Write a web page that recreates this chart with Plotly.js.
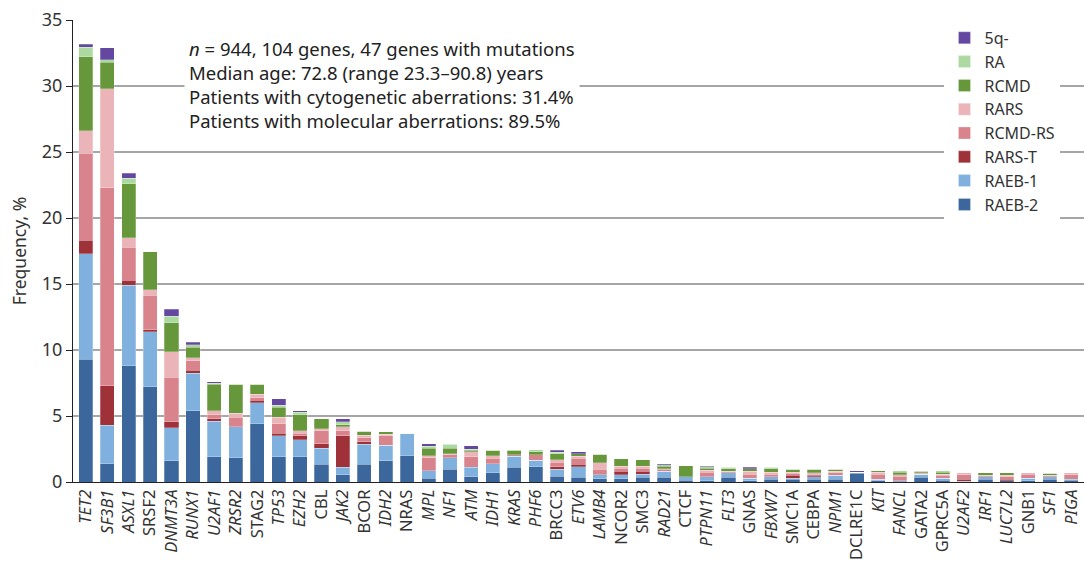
<!DOCTYPE html>
<html>
<head>
<meta charset="utf-8">
<script src="https://cdn.plot.ly/plotly-3.0.1.min.js"></script>
<style>html,body{margin:0;padding:0;background:#fff;}#chart{width:1084px;height:563px;}</style>
</head>
<body>
<div id="chart"></div>
<script>
const genes = ["TET2","SF3B1","ASXL1","SRSF2","DNMT3A","RUNX1","U2AF1","ZRSR2","STAG2","TP53","EZH2","CBL","JAK2","BCOR","IDH2","NRAS","MPL","NF1","ATM","IDH1","KRAS","PHF6","BRCC3","ETV6","LAMB4","NCOR2","SMC3","RAD21","CTCF","PTPN11","FLT3","GNAS","FBXW7","SMC1A","CEBPA","NPM1","DCLRE1C","KIT","FANCL","GATA2","GPRC5A","U2AF2","IRF1","LUC7L2","GNB1","SF1","PIGA"];

const raeb2  = [9.3,1.4,8.8,7.2,1.6,5.4,1.9,1.85,4.4,1.9,1.9,1.35,0.55,1.35,1.6,2.0,0.3,0.95,0.4,0.7,1.1,1.15,0.45,0.35,0.25,0.25,0.35,0.35,0.15,0.1,0.35,0.1,0.2,0.2,0.2,0.2,0.65,0.1,0,0.35,0.15,0.05,0.2,0.1,0.1,0.2,0.15];
const raeb1  = [8.0,2.9,6.1,4.2,2.5,2.85,2.7,2.35,1.6,1.6,1.3,1.2,0.55,1.5,1.2,1.7,0.55,0.9,0.7,0.7,0.85,0.5,0.5,0.8,0.3,0.3,0.25,0.45,0.25,0.3,0.35,0.2,0.2,0.1,0.2,0.3,0.1,0.1,0.1,0.25,0.15,0,0.2,0,0.2,0.2,0.05];
const rarst  = [1.0,3.0,0.4,0.15,0.45,0.2,0.2,0,0.2,0.2,0.3,0.35,2.4,0.2,0,0,0,0,0.1,0,0,0,0.2,0.2,0.05,0.25,0.2,0,0,0,0,0,0,0.2,0.1,0,0,0,0,0,0,0.15,0,0.1,0,0,0.1];
const rcmdrs = [6.6,15.0,2.5,2.6,3.4,0.75,0.3,0.7,0.2,0.7,0.2,1.0,0.4,0.3,0.7,0,1.0,0.2,0.7,0.4,0.1,0.4,0.35,0.45,0.35,0.25,0.25,0.15,0,0.35,0.1,0.3,0.2,0.15,0.1,0.2,0,0.4,0.35,0,0.2,0.35,0.1,0.2,0.3,0.1,0.25];
const rars   = [1.7,7.5,0.7,0.4,1.9,0.2,0.3,0.3,0.25,0.5,0.2,0.15,0.3,0.2,0.1,0,0.15,0.1,0.4,0.2,0,0,0.2,0.15,0.5,0.15,0.15,0.05,0,0.15,0,0.2,0.15,0.1,0.1,0.1,0,0.15,0.1,0.1,0.1,0.15,0,0.1,0.1,0,0.15];
const rcmd   = [5.6,2.0,4.1,2.9,2.2,0.8,2.0,2.2,0.75,0.75,1.2,0.75,0.15,0.3,0.2,0,0.55,0.4,0.1,0.4,0.3,0.25,0.45,0.2,0.65,0.55,0.5,0.2,0.85,0.15,0.2,0.2,0.25,0.2,0.25,0.15,0,0.1,0.2,0.1,0.15,0,0.2,0.2,0,0.15,0];
const ra     = [0.75,0.2,0.4,0,0.5,0.2,0.1,0,0,0.15,0.2,0,0.2,0,0,0,0.15,0.3,0.1,0,0.1,0.15,0.1,0,0,0,0,0.1,0,0.1,0.1,0,0.1,0,0,0,0,0,0.1,0,0.1,0,0,0,0,0,0];
const q5     = [0.2,0.9,0.4,0,0.55,0.2,0.1,0,0,0.5,0.1,0,0.25,0,0,0,0.2,0,0.25,0,0,0,0.15,0.15,0,0,0,0.1,0,0.05,0,0.1,0,0,0,0,0.1,0,0,0.05,0,0,0,0,0,0,0];

const seriesNames  = ["RAEB-2","RAEB-1","RARS-T","RCMD-RS","RARS","RCMD","RA","5q-"];
const seriesValues = [raeb2, raeb1, rarst, rcmdrs, rars, rcmd, ra, q5];
const seriesColors = ["#3c679c","#80b0de","#9e3238","#d9848c","#ebb4b8","#66973a","#acd9a2","#6447a0"];

// tick label styling: these labels are set upright in the original, the rest in italics
const uprightLabels = ["SRSF2","STAG2","CBL","BCOR","NRAS","BRCC3","NCOR2","SMC3","CTCF","GNAS","SMC1A","CEBPA","DCLRE1C","GATA2","GPRC5A","GNB1"];

const fnt = "Noto Sans, Open Sans, DejaVu Sans, sans-serif";
const tickText = genes.map(g => uprightLabels.includes(g) ? g : "<i>" + g + "</i>");

const traces = seriesNames.map((name, i) => ({
  type: "bar",
  name: name,
  x: genes,
  y: seriesValues[i],
  marker: {color: seriesColors[i], line: {color: "rgba(255,255,255,0.5)", width: 0.5}},
  hoverinfo: "x+y+name"
}));

const layout = {
  width: 1084, height: 563,
  margin: {l: 73, r: 0, t: 19.5, b: 81},
  paper_bgcolor: "#fff", plot_bgcolor: "#fff",
  barmode: "stack",
  bargap: 0.34,
  font: {family: fnt, color: "#333", size: 16},
  showlegend: true,
  legend: {
    traceorder: "reversed",
    x: 0.862, xanchor: "left",
    y: 0.998, yanchor: "top",
    bgcolor: "#fff",
    font: {family: fnt, size: 16, color: "#333"},
    itemwidth: 30,
    tracegroupgap: 0
  },
  xaxis: {
    type: "category",
    range: [-0.6, 46.6],
    tickmode: "array",
    tickvals: genes,
    ticktext: tickText,
    tickangle: -90,
    tickfont: {family: fnt, size: 16.5, color: "#333"},
    showline: true, linecolor: "#222", linewidth: 1,
    ticks: "", showgrid: false, zeroline: false,
    fixedrange: true
  },
  yaxis: {
    range: [0, 35],
    tickvals: [0,5,10,15,20,25,30,35],
    ticks: "outside", ticklen: 6, tickcolor: "#222",
    tickfont: {family: fnt, size: 18, color: "#333"},
    showline: true, linecolor: "#222", linewidth: 1,
    showgrid: true, gridcolor: "#a6a6a6", gridwidth: 1.2,
    zeroline: false,
    title: {text: "Frequency, %", font: {family: fnt, size: 17.5, color: "#333"}, standoff: 10},
    fixedrange: true
  },
  annotations: [{
    xref: "paper", yref: "paper",
    x: 0.11, y: 0.977, xanchor: "left", yanchor: "top",
    align: "left", showarrow: false,
    bgcolor: "#fff",
    borderpad: 4,
    font: {family: fnt, size: 18.5, color: "#222"},
    text: "<i>n</i> = 944, 104 genes, 47 genes with mutations<br>Median age: 72.8 (range 23.3–90.8) years<br>Patients with cytogenetic aberrations: 31.4%<br>Patients with molecular aberrations: 89.5%"
  }]
};

Plotly.newPlot("chart", traces, layout, {displayModeBar: false, staticPlot: true});
</script>
</body>
</html>
